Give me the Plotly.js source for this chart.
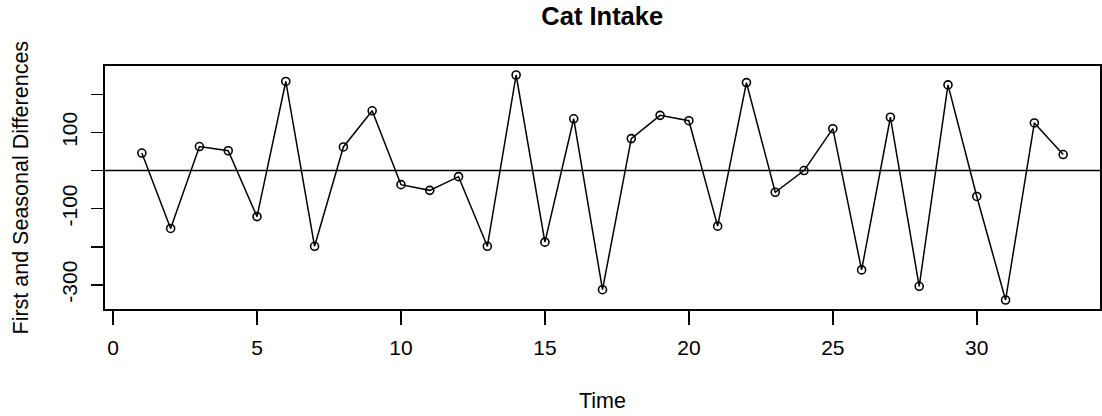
<!DOCTYPE html>
<html>
<head>
<meta charset="utf-8">
<script src="https://cdn.plot.ly/plotly-3.0.1.min.js"></script>
<style>
  html, body { margin: 0; padding: 0; background: #ffffff; }
  #chart { width: 1102px; height: 416px; }
</style>
</head>
<body>
<div id="chart"></div>
<script>
// Time index of the differenced series
const timeIndex = [1, 2, 3, 4, 5, 6, 7, 8, 9, 10, 11, 12, 13, 14, 15, 16, 17,
  18, 19, 20, 21, 22, 23, 24, 25, 26, 27, 28, 29, 30, 31, 32, 33];

// First and seasonal differences of cat intake
const diffValues = [46, -152, 63, 52, -121, 234, -199, 62, 157, -37, -52, -16,
  -199, 251, -188, 136, -313, 84, 145, 131, -146, 231, -57, 0, 110, -261, 140,
  -304, 225, -68, -340, 125, 42];

// Axis ticks (only some of the y ticks carry a label)
const xTickVals = [0, 5, 10, 15, 20, 25, 30];
const yTickVals = [-300, -200, -100, 0, 100, 200];
const yTickText = ['-300', '', '-100', '', '100', ''];

// Axis ranges padded by 4% on each side of the data
function paddedRange(values) {
  const lo = Math.min(...values), hi = Math.max(...values);
  const pad = (hi - lo) * 0.04;
  return [lo - pad, hi + pad];
}

const FONT = '"Liberation Sans", Arial, Helvetica, sans-serif';

const trace = {
  x: timeIndex,
  y: diffValues,
  type: 'scatter',
  mode: 'lines+markers',
  line: { color: '#000000', width: 1.5 },
  marker: { symbol: 'circle-open', size: 8, color: '#000000', line: { width: 1.6, color: '#000000' } },
  hoverinfo: 'x+y',
  showlegend: false
};

const axisCommon = {
  showgrid: false,
  zeroline: false,
  showline: true,
  mirror: true,
  linecolor: '#000000',
  linewidth: 1.6,
  ticks: 'outside',
  tickwidth: 1.6,
  tickcolor: '#000000',
  tickfont: { family: FONT, size: 21, color: '#000000' },
  automargin: false
};

const layout = {
  width: 1102,
  height: 416,
  paper_bgcolor: '#ffffff',
  plot_bgcolor: '#ffffff',
  margin: { l: 105, r: 2, t: 66, b: 107 },
  title: {
    text: 'Cat Intake',
    font: { family: FONT, size: 25.5, color: '#000000', weight: 'bold' },
    x: 0.5465, xanchor: 'center',
    y: 0.962, yanchor: 'middle', yref: 'container'
  },
  xaxis: Object.assign({}, axisCommon, {
    range: paddedRange(timeIndex),
    tickmode: 'array',
    tickvals: xTickVals,
    ticklen: 14,
    ticklabelstandoff: 5
  }),
  yaxis: Object.assign({}, axisCommon, {
    range: paddedRange(diffValues),
    tickmode: 'array',
    tickvals: yTickVals,
    ticktext: yTickText,
    tickangle: -90,
    ticklen: 12,
    ticklabelstandoff: 6
  }),
  shapes: [{
    type: 'line', xref: 'paper', x0: 0, x1: 1, yref: 'y', y0: 0, y1: 0,
    line: { color: '#000000', width: 1.6 }, layer: 'below'
  }],
  annotations: [
    {
      text: 'Time', xref: 'paper', yref: 'paper', x: 0.5, y: 0,
      xanchor: 'center', yanchor: 'middle', yshift: -92, showarrow: false,
      font: { family: FONT, size: 21.5, color: '#000000' }
    },
    {
      text: 'First and Seasonal Differences', xref: 'paper', yref: 'paper', x: 0, y: 0.5,
      xanchor: 'center', yanchor: 'middle', xshift: -85, textangle: -90, showarrow: false,
      font: { family: FONT, size: 21.5, color: '#000000' }
    }
  ]
};

Plotly.newPlot('chart', [trace], layout, { displayModeBar: false, staticPlot: true });
</script>
</body>
</html>
